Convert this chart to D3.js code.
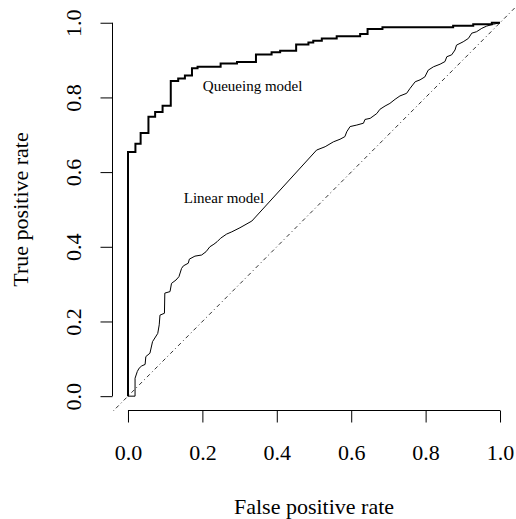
<!DOCTYPE html>
<html><head><meta charset="utf-8">
<script src="https://cdn.jsdelivr.net/npm/d3@7"></script>
<style>body{margin:0;background:#fff}svg{display:block}</style>
</head><body>
<script>
const ticks = [0, 0.2, 0.4, 0.6, 0.8, 1.0];
const tickLabels = ["0.0","0.2","0.4","0.6","0.8","1.0"];

const queueingFPR = [0, 0, 0.020, 0.034, 0.055, 0.073, 0.093, 0.115, 0.135, 0.153, 0.172, 0.187, 0.249, 0.293, 0.344, 0.386, 0.409, 0.452, 0.485, 0.498, 0.521, 0.561, 0.624, 0.644, 0.684, 0.874, 0.928, 0.978, 1];
const queueingTPR = [0, 0.654, 0.676, 0.705, 0.748, 0.761, 0.778, 0.844, 0.851, 0.859, 0.878, 0.882, 0.891, 0.895, 0.915, 0.921, 0.925, 0.942, 0.947, 0.952, 0.958, 0.964, 0.970, 0.983, 0.988, 0.992, 0.996, 1.0, 1.0];

const linearFPR = [0, 0.019, 0.019, 0.025, 0.030, 0.037, 0.046, 0.048, 0.059, 0.066, 0.080, 0.084, 0.086, 0.098, 0.099, 0.113, 0.117, 0.129, 0.137, 0.144, 0.149, 0.162, 0.165, 0.180, 0.198, 0.210, 0.220, 0.231, 0.240, 0.249, 0.265, 0.279, 0.301, 0.333, 0.507, 0.530, 0.552, 0.570, 0.583, 0.588, 0.597, 0.615, 0.633, 0.637, 0.651, 0.669, 0.677, 0.691, 0.704, 0.718, 0.731, 0.749, 0.758, 0.772, 0.785, 0.798, 0.807, 0.821, 0.839, 0.852, 0.857, 0.870, 0.879, 0.883, 0.901, 0.915, 0.924, 0.937, 0.951, 0.964, 0.982, 1];
const linearTPR = [0, 0, 0.048, 0.066, 0.075, 0.081, 0.085, 0.106, 0.115, 0.146, 0.168, 0.191, 0.217, 0.222, 0.276, 0.280, 0.302, 0.311, 0.320, 0.342, 0.349, 0.356, 0.367, 0.375, 0.378, 0.387, 0.400, 0.407, 0.414, 0.423, 0.434, 0.440, 0.451, 0.469, 0.659, 0.668, 0.681, 0.688, 0.695, 0.708, 0.722, 0.726, 0.731, 0.741, 0.744, 0.757, 0.768, 0.777, 0.784, 0.795, 0.804, 0.811, 0.824, 0.842, 0.847, 0.855, 0.873, 0.882, 0.889, 0.896, 0.909, 0.914, 0.927, 0.940, 0.949, 0.958, 0.972, 0.976, 0.985, 0.991, 0.996, 1];

const diagonal = [-0.04, 1.04];
const labels = [
  {text: "Queueing model", fpr: 0.335, tpr: 0.83},
  {text: "Linear model", fpr: 0.258, tpr: 0.53}
];

const W = 516, H = 519;
const font = "'Liberation Serif','Times New Roman',serif";
const svg = d3.select("body").append("svg").attr("width", W).attr("height", H);

const x = d3.scaleLinear().domain([-0.04, 1.04]).range([113.1, 514.9]);
const y = d3.scaleLinear().domain([-0.04, 1.04]).range([411.1, 7.8]);

svg.append("defs").append("clipPath").attr("id","clip")
  .append("rect").attr("x",113.1).attr("y",7.8).attr("width",401.8).attr("height",403.3);

// axes
const xAxis = d3.axisBottom(x).tickValues(ticks).tickFormat((d,i)=>tickLabels[i]).tickSize(12).tickSizeOuter(0);
const gx = svg.append("g").attr("transform","translate(0,410.5)").call(xAxis);
gx.select(".domain").remove();
gx.append("line").attr("x1",x(0)).attr("x2",x(1)).attr("stroke","#000");
gx.selectAll(".tick line").attr("stroke","#000");
gx.selectAll(".tick text").attr("y",49).attr("dy",0).attr("fill","#000")
  .style("font-family",font).style("font-size","22px");

const yAxis = d3.axisLeft(y).tickValues(ticks).tickFormat((d,i)=>tickLabels[i]).tickSize(12).tickSizeOuter(0);
const gy = svg.append("g").attr("transform","translate(112.5,0)").call(yAxis);
gy.select(".domain").remove();
gy.append("line").attr("y1",y(0)).attr("y2",y(1)).attr("stroke","#000");
gy.selectAll(".tick line").attr("stroke","#000");
gy.selectAll(".tick text").attr("x",0).attr("dy",0).attr("text-anchor","middle")
  .attr("transform","translate(-32,0) rotate(-90)").attr("fill","#000")
  .style("font-family",font).style("font-size","22px");

// axis titles
svg.append("text").attr("x", x(0.5)).attr("y", 514).attr("text-anchor","middle")
  .style("font-family",font).style("font-size","22px").text("False positive rate");
svg.append("text").attr("transform",`translate(28,${y(0.5)}) rotate(-90)`).attr("text-anchor","middle")
  .style("font-family",font).style("font-size","22px").text("True positive rate");

const plot = svg.append("g").attr("clip-path","url(#clip)");

// diagonal
plot.append("line")
  .attr("x1", x(diagonal[0])).attr("y1", y(diagonal[0]))
  .attr("x2", x(diagonal[1])).attr("y2", y(diagonal[1]))
  .attr("stroke","#333").attr("stroke-width",1).attr("stroke-dasharray","1,3,4,3");

const qData = queueingFPR.map((f,i)=>[f, queueingTPR[i]]);
const lData = linearFPR.map((f,i)=>[f, linearTPR[i]]);

plot.append("path").datum(lData)
  .attr("d", d3.line().x(d=>x(d[0])).y(d=>y(d[1])))
  .attr("fill","none").attr("stroke","#000").attr("stroke-width",1);

plot.append("path").datum(qData)
  .attr("d", d3.line().curve(d3.curveStepAfter).x(d=>x(d[0])).y(d=>y(d[1])))
  .attr("fill","none").attr("stroke","#000").attr("stroke-width",2);

svg.selectAll(".lbl").data(labels).enter().append("text").attr("class","lbl")
  .attr("x", d=>x(d.fpr)).attr("y", d=>y(d.tpr)).attr("text-anchor","middle").attr("dy","0.35em")
  .style("font-family",font).style("font-size","15px").text(d=>d.text);
</script>
</body></html>
